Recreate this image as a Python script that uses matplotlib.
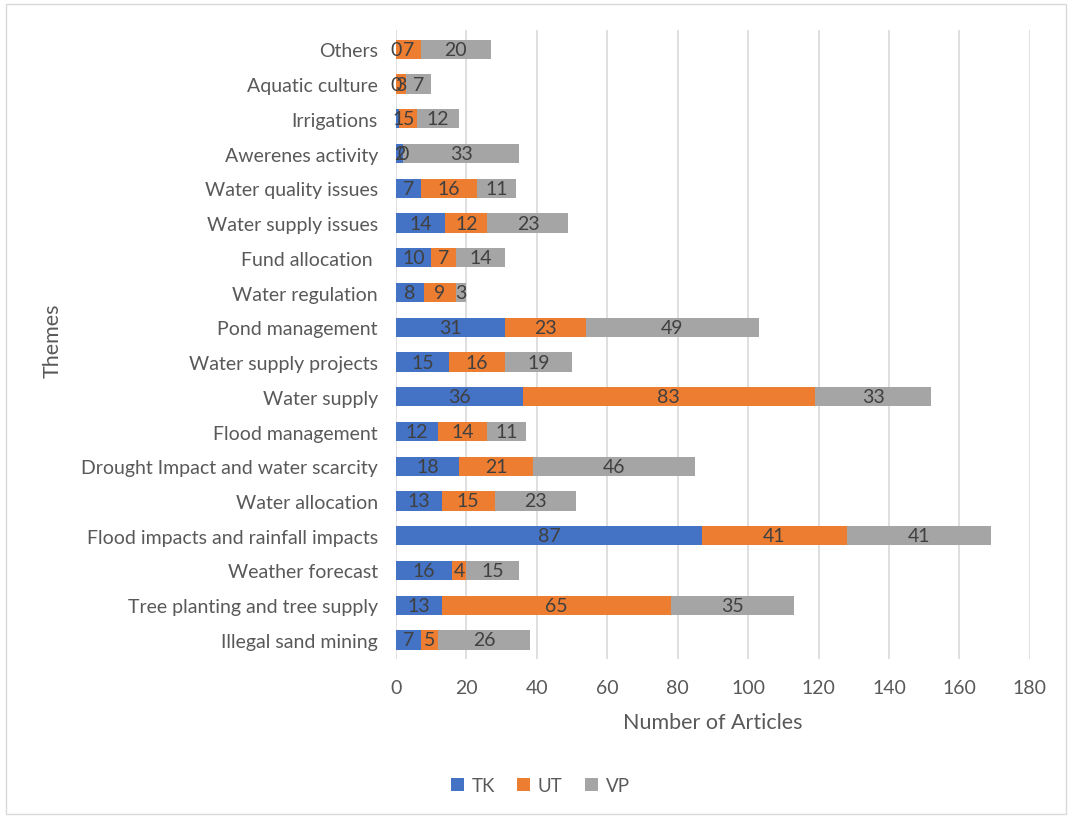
import matplotlib
matplotlib.use("Agg")
import matplotlib.pyplot as plt
from matplotlib.patches import Rectangle
import numpy as np

themes = [
    "Illegal sand mining", "Tree planting and tree supply", "Weather forecast",
    "Flood impacts and rainfall impacts", "Water allocation",
    "Drought Impact and water scarcity", "Flood management", "Water supply",
    "Water supply projects", "Pond management", "Water regulation",
    "Fund allocation ", "Water supply issues", "Water quality issues",
    "Awerenes activity", "Irrigations", "Aquatic culture", "Others",
]
tk = [7, 13, 16, 87, 13, 18, 12, 36, 15, 31, 8, 10, 14, 7, 2, 1, 0, 0]
ut = [5, 65, 4, 41, 15, 21, 14, 83, 16, 23, 9, 7, 12, 16, 0, 5, 3, 7]
vp = [26, 35, 15, 41, 23, 46, 11, 33, 19, 49, 3, 14, 23, 11, 33, 12, 7, 20]
series = [("TK", tk, "#4472C4"), ("UT", ut, "#ED7D31"), ("VP", vp, "#A5A5A5")]
xticks = [0, 20, 40, 60, 80, 100, 120, 140, 160, 180]

plt.rcParams["font.family"] = ["Lato", "DejaVu Sans"]
text_col = "#595959"

fig = plt.figure(figsize=(10.7, 8.2), dpi=100)
ax = fig.add_axes([0.370, 0.195, 0.5925, 0.767])

y = np.arange(len(themes))
left = np.zeros(len(themes))
for name, vals, col in series:
    vals = np.array(vals, dtype=float)
    bars = ax.barh(y, vals, left=left, height=0.55, color=col, label=name, zorder=3)
    ax.bar_label(bars, labels=[str(int(v)) for v in vals], label_type="center",
                 fontsize=14, color="#404040", zorder=4)
    left += vals

ax.set_xlim(0, 180)
ax.set_ylim(-0.55, len(themes) - 0.45)
ax.set_xticks(xticks)
ax.set_yticks(y)
ax.set_yticklabels(themes)
ax.tick_params(axis="both", length=0, colors=text_col, labelsize=14)
ax.tick_params(axis="x", pad=14)
ax.tick_params(axis="y", pad=13)
ax.grid(axis="x", color="#D9D9D9", linewidth=1.2, zorder=0)
for s in ax.spines.values():
    s.set_visible(False)

ax.set_xlabel("Number of Articles", fontsize=15.5, color=text_col, labelpad=12)
fig.text(0.049, 0.585, "Themes", rotation=90, fontsize=15.5, color=text_col,
         ha="center", va="center")

leg = ax.legend(loc="center", ncol=3, frameon=False, fontsize=13.5, labelcolor=text_col,
                handlelength=0.7, handleheight=0.7, handletextpad=0.4,
                columnspacing=1.2)
leg.set_bbox_to_anchor((0.505, 0.041), transform=fig.transFigure)

fig.patches.append(Rectangle((0.006, 0.006), 0.99, 0.988, transform=fig.transFigure,
                             fill=False, edgecolor="#D9D9D9", linewidth=1.0))

fig.savefig("out.png", dpi=100, facecolor="white")
